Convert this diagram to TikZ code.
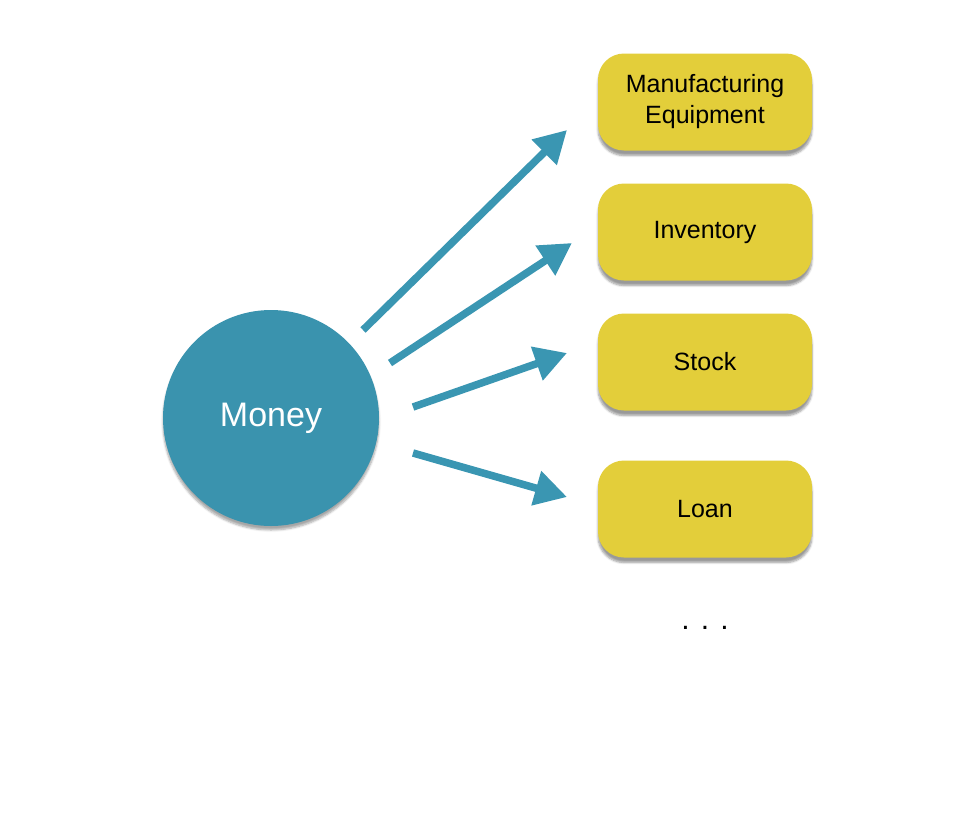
\documentclass[tikz,border=0pt]{standalone}
\usepackage{fontspec}
\setmainfont{Liberation Sans}
\usetikzlibrary{arrows.meta,shadows.blur}
\definecolor{moneyblue}{HTML}{3A93AE}
\definecolor{boxyellow}{HTML}{E3CE3A}
\definecolor{arrowblue}{HTML}{3A96B2}
\tikzset{
  x=1pt,y=-1pt,
  itembox/.style={draw=none,fill=boxyellow,rounded corners=26pt,minimum width=214pt,minimum height=97pt,
    align=center,font=\fontsize{25}{31}\selectfont,text=black,
    blur shadow={shadow xshift=0pt,shadow yshift=-5pt,shadow blur steps=6,shadow opacity=40}},
  moneynode/.style={circle,fill=moneyblue,minimum size=216pt,inner sep=0pt,text=white,
    font=\fontsize{34}{40}\selectfont,
    blur shadow={shadow xshift=0pt,shadow yshift=-4pt,shadow blur steps=6,shadow opacity=35}},
  chalkarrow/.style={draw=arrowblue,line width=7.5pt,
    -{Triangle[length=32pt,width=34pt]}},
}
\begin{document}
\begin{tikzpicture}
\useasboundingbox (0,0) rectangle (964,814);
\node[moneynode] (money) at (271,418) {\raisebox{-3pt}{Money}};
\node[itembox] (equip) at (705,102) {Manufacturing\\Equipment};
\node[itembox] (inv) at (705,232) {\raisebox{-2pt}{Inventory}};
\node[itembox] (stock) at (705,362) {\raisebox{-2pt}{Stock}};
\node[itembox] (loan) at (705,509) {\raisebox{-2pt}{Loan}};
\node[font=\fontsize{30}{36}\selectfont] (dots) at (705,628) {. . .};
\coordinate (s1) at (363,330); \coordinate (t1) at (567,130);
\coordinate (s2) at (390,363); \coordinate (t2) at (572,243);
\coordinate (s3) at (413,407); \coordinate (t3) at (567,353);
\coordinate (s4) at (413,453); \coordinate (t4) at (567,497);
\draw[chalkarrow] (s1) -- (t1);
\draw[chalkarrow] (s2) -- (t2);
\draw[chalkarrow] (s3) -- (t3);
\draw[chalkarrow] (s4) -- (t4);
\end{tikzpicture}
\end{document}
